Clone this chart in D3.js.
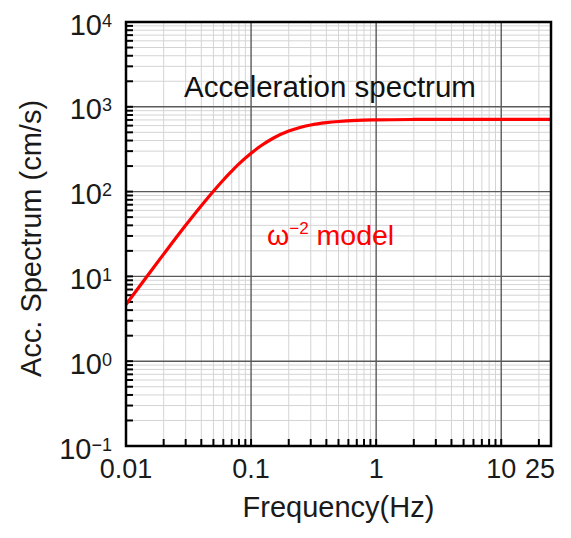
<!DOCTYPE html>
<html>
<head>
<meta charset="utf-8">
<script src="https://cdn.jsdelivr.net/npm/d3@7"></script>
<style>
  html, body { margin: 0; padding: 0; background: #fff; }
  svg { display: block; font-family: "Liberation Sans", Arial, Helvetica, sans-serif; }
</style>
</head>
<body>
<svg id="chart" width="571" height="538"></svg>
<script>
// Acceleration source spectrum (omega-squared model), frequency in Hz, amplitude in cm/s
const freq  = [0.01, 0.015, 0.02, 0.03, 0.04, 0.05, 0.06, 0.07, 0.08, 0.1, 0.12, 0.15, 0.2, 0.25, 0.3, 0.4, 0.5, 0.7, 1, 2, 5, 10, 25];
const accel = [4.67, 10.4, 18.3, 40.0, 68.1, 101, 137, 174, 212, 283, 347, 426, 517, 573, 610, 650, 671, 691, 701, 709, 712, 712, 712];

const xTickValues = [0.01, 0.1, 1, 10, 25];
const xTickLabels = ["0.01", "0.1", "1", "10", "25"];
const yTickExponents = [-1, 0, 1, 2, 3, 4];

const svg = d3.select("#chart");
const plotL = 126, plotR = 551, plotT = 22, plotB = 446;

const x = d3.scaleLog().domain([0.01, 25]).range([plotL, plotR]);
const y = d3.scaleLog().domain([0.1, 1e4]).range([plotB, plotT]);

// minor (2..9 × 10^n) positions inside a log domain
function minorValues(domain) {
  const out = [];
  const lo = Math.floor(Math.log10(domain[0])), hi = Math.ceil(Math.log10(domain[1]));
  for (let e = lo; e < hi; e++) {
    for (let k = 2; k <= 9; k++) {
      const v = k * Math.pow(10, e);
      if (v > domain[0] && v < domain[1]) out.push(v);
    }
  }
  return out;
}
const xMinor = minorValues(x.domain());
const yMinor = minorValues(y.domain());
const xMajor = [0.01, 0.1, 1, 10];
const yMajor = yTickExponents.map(e => Math.pow(10, e));

const grid = svg.append("g");
grid.selectAll("line.xm").data(xMinor).join("line")
  .attr("x1", d => x(d)).attr("x2", d => x(d)).attr("y1", plotT).attr("y2", plotB)
  .attr("stroke", "#d4d4d4").attr("stroke-width", 1);
grid.selectAll("line.ym").data(yMinor).join("line")
  .attr("y1", d => y(d)).attr("y2", d => y(d)).attr("x1", plotL).attr("x2", plotR)
  .attr("stroke", "#d4d4d4").attr("stroke-width", 1);
grid.selectAll("line.xM").data(xMajor).join("line")
  .attr("x1", d => x(d)).attr("x2", d => x(d)).attr("y1", plotT).attr("y2", plotB)
  .attr("stroke", "#5a5a5a").attr("stroke-width", 1.4);
grid.selectAll("line.yM").data(yMajor).join("line")
  .attr("y1", d => y(d)).attr("y2", d => y(d)).attr("x1", plotL).attr("x2", plotR)
  .attr("stroke", "#5a5a5a").attr("stroke-width", 1.4);

// inward ticks on the bottom and left axes
const ticks = svg.append("g").attr("stroke", "#000").attr("stroke-width", 2);
ticks.selectAll("line.xt").data(xMinor.concat(xMajor)).join("line")
  .attr("x1", d => x(d)).attr("x2", d => x(d)).attr("y1", plotB).attr("y2", plotB - 7);
ticks.selectAll("line.yt").data(yMinor.concat(yMajor)).join("line")
  .attr("y1", d => y(d)).attr("y2", d => y(d)).attr("x1", plotL).attr("x2", plotL + 7);

// spectrum curve
const line = d3.line().x(d => x(d[0])).y(d => y(d[1])).curve(d3.curveMonotoneX);
svg.append("path")
  .datum(freq.map((f, i) => [f, accel[i]]))
  .attr("d", line)
  .attr("fill", "none")
  .attr("stroke", "#ff0000")
  .attr("stroke-width", 3.2);

// frame
svg.append("rect")
  .attr("x", plotL).attr("y", plotT).attr("width", plotR - plotL).attr("height", plotB - plotT)
  .attr("fill", "none").attr("stroke", "#000").attr("stroke-width", 2.5);

// x tick labels
svg.append("g").selectAll("text").data(xTickValues).join("text")
  .attr("x", (d, i) => x(d) + (i === xTickValues.length - 1 ? -11 : 0))
  .attr("y", 478)
  .attr("text-anchor", "middle")
  .attr("font-size", 27)
  .attr("fill", "#1a1a1a")
  .text((d, i) => xTickLabels[i]);

// y tick labels as powers of ten
const yl = svg.append("g").selectAll("text").data(yTickExponents).join("text")
  .attr("x", 112)
  .attr("y", d => y(Math.pow(10, d)) + 12.5)
  .attr("text-anchor", "end")
  .attr("font-size", 29)
  .attr("fill", "#1a1a1a");
yl.append("tspan").text("10");
yl.append("tspan").attr("font-size", 18).attr("dy", -8)
  .text(d => d < 0 ? "\u2212" + Math.abs(d) : String(d));

// axis titles
svg.append("text")
  .attr("x", (plotL + plotR) / 2).attr("y", 517)
  .attr("text-anchor", "middle").attr("font-size", 29).attr("fill", "#1a1a1a")
  .text("Frequency(Hz)");
svg.append("text")
  .attr("transform", `translate(41, ${(plotT + plotB) / 2 + 4.5}) rotate(-90)`)
  .attr("text-anchor", "middle").attr("font-size", 29).attr("fill", "#1a1a1a")
  .text("Acc. Spectrum (cm/s)");

// annotations
svg.append("text")
  .attr("x", 330).attr("y", 97)
  .attr("text-anchor", "middle").attr("font-size", 29.5).attr("fill", "#111")
  .text("Acceleration spectrum");

const model = svg.append("text")
  .attr("x", 267).attr("y", 245)
  .attr("font-size", 28.5).attr("fill", "#ff0000");
model.append("tspan").text("\u03c9");
model.append("tspan").attr("font-size", 17).attr("dy", -11).text("\u22122");
model.append("tspan").attr("dy", 11).text(" model");
</script>
</body>
</html>
